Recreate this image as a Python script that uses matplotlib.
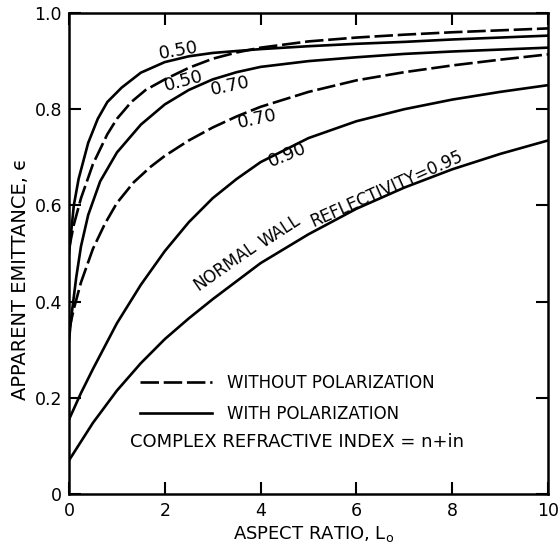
import matplotlib.pyplot as plt
from matplotlib.lines import Line2D

# reflectivity 0.50, with polarization (solid)
x_50_pol = [0, 0.1, 0.2, 0.4, 0.6, 0.8, 1.1, 1.5, 2.0, 2.5, 3.0, 3.5, 4.0, 5.0, 6.0, 7.0, 8.0, 9.0, 10]
y_50_pol = [0.50, 0.60, 0.655, 0.73, 0.78, 0.815, 0.845, 0.876, 0.898, 0.91, 0.917, 0.921, 0.925, 0.931, 0.936, 0.940, 0.945, 0.949, 0.953]

# reflectivity 0.50, without polarization (dashed)
x_50_nopol = [0, 0.1, 0.25, 0.5, 0.8, 1.0, 1.3, 1.6, 2.0, 2.5, 3.0, 3.5, 4.0, 5.0, 6.0, 7.0, 8.0, 9.0, 10]
y_50_nopol = [0.51, 0.56, 0.615, 0.686, 0.748, 0.78, 0.815, 0.84, 0.862, 0.886, 0.905, 0.918, 0.928, 0.941, 0.949, 0.955, 0.96, 0.964, 0.968]

# reflectivity 0.70, with polarization (solid)
x_70_pol = [0, 0.05, 0.15, 0.25, 0.4, 0.65, 1.0, 1.5, 2.0, 2.5, 3.0, 3.5, 4.0, 5.0, 6.0, 7.0, 8.0, 9.0, 10]
y_70_pol = [0.32, 0.37, 0.45, 0.515, 0.58, 0.65, 0.71, 0.768, 0.81, 0.84, 0.862, 0.877, 0.888, 0.90, 0.908, 0.915, 0.92, 0.924, 0.928]

# reflectivity 0.70, without polarization (dashed)
x_70_nopol = [0, 0.1, 0.25, 0.5, 0.75, 1.0, 1.35, 1.7, 2.0, 2.5, 3.0, 3.5, 4.0, 5.0, 6.0, 7.0, 8.0, 9.0, 10]
y_70_nopol = [0.34, 0.385, 0.44, 0.51, 0.562, 0.605, 0.648, 0.68, 0.703, 0.735, 0.762, 0.785, 0.805, 0.836, 0.86, 0.877, 0.891, 0.903, 0.914]

# reflectivity 0.90 (solid)
x_90 = [0, 0.25, 0.5, 1.0, 1.5, 2.0, 2.5, 3.0, 3.5, 4.0, 5.0, 6.0, 7.0, 8.0, 9.0, 10]
y_90 = [0.155, 0.21, 0.26, 0.355, 0.435, 0.505, 0.565, 0.615, 0.655, 0.69, 0.74, 0.775, 0.80, 0.82, 0.836, 0.85]

# reflectivity 0.95 (solid)
x_95 = [0, 0.5, 1.0, 1.5, 2.0, 2.5, 3.0, 4.0, 5.0, 6.0, 7.0, 8.0, 9.0, 10]
y_95 = [0.07, 0.148, 0.215, 0.272, 0.322, 0.365, 0.405, 0.48, 0.54, 0.593, 0.637, 0.675, 0.707, 0.735]

x_ticks = [0, 2, 4, 6, 8, 10]
y_ticks = [0, 0.2, 0.4, 0.6, 0.8, 1.0]
y_tick_labels = ["0", "0.2", "0.4", "0.6", "0.8", "1.0"]

# curve labels: text, x, y, rotation
curve_labels = [
    ("0.50", 2.29, 0.922, 10),
    ("0.50", 2.39, 0.859, 15),
    ("0.70", 3.37, 0.849, 12),
    ("0.70", 3.93, 0.779, 12),
    ("0.90", 4.55, 0.704, 22),
]
wall_words = [
    ("NORMAL", 3.26, 0.473, 35),
    ("WALL", 4.41, 0.546, 33),
    ("REFLECTIVITY=0.95", 6.63, 0.634, 24),
]

lw = 1.9
dash = (0, (7, 1.8))

fig = plt.figure(figsize=(5.58, 5.45), dpi=100)
ax = fig.add_axes([0.1237, 0.0936, 0.8583, 0.8825])

ax.plot(x_50_pol, y_50_pol, color='black', lw=lw)
ax.plot(x_50_nopol, y_50_nopol, color='black', lw=lw, linestyle=dash)
ax.plot(x_70_pol, y_70_pol, color='black', lw=lw)
ax.plot(x_70_nopol, y_70_nopol, color='black', lw=lw, linestyle=dash)
ax.plot(x_90, y_90, color='black', lw=lw)
ax.plot(x_95, y_95, color='black', lw=lw)

for txt, x, y, rot in curve_labels:
    ax.text(x, y, txt, fontsize=13, rotation=rot, rotation_mode='anchor',
            ha='center', va='center')
for txt, x, y, rot in wall_words:
    ax.text(x, y, txt, fontsize=12, rotation=rot, rotation_mode='anchor',
            ha='center', va='center')

ax.set_xlim(0, 10)
ax.set_ylim(0, 1.0)
ax.set_xticks(x_ticks)
ax.set_xticklabels([str(t) for t in x_ticks])
ax.set_yticks(y_ticks)
ax.set_yticklabels(y_tick_labels)
ax.tick_params(direction='in', length=8.5, width=1.5, top=True, right=True,
               labelsize=12.5)
ax.tick_params(axis='y', pad=5)
ax.tick_params(axis='x', pad=6)
for s in ax.spines.values():
    s.set_linewidth(1.8)

ax.set_xlabel(r'ASPECT RATIO, L$_{\rm o}$', fontsize=13)
ax.xaxis.set_label_coords(0.51, -0.062)
ax.set_ylabel('APPARENT EMITTANCE, \u03f5', fontsize=14)
ax.yaxis.set_label_coords(-0.082, 0.447)

handles = [
    Line2D([], [], color='black', lw=lw, linestyle=dash),
    Line2D([], [], color='black', lw=lw),
]
ax.legend(handles, ['WITHOUT POLARIZATION', 'WITH POLARIZATION'],
          loc='upper left', bbox_to_anchor=(0.148, 0.25), frameon=False,
          fontsize=12, handlelength=4.3, handletextpad=0.9,
          labelspacing=0.8, borderpad=0, borderaxespad=0)
ax.text(0.127, 0.108, 'COMPLEX REFRACTIVE INDEX = n+in', fontsize=13,
        transform=ax.transAxes, va='center', ha='left')

fig.savefig('out.png', dpi=100)
